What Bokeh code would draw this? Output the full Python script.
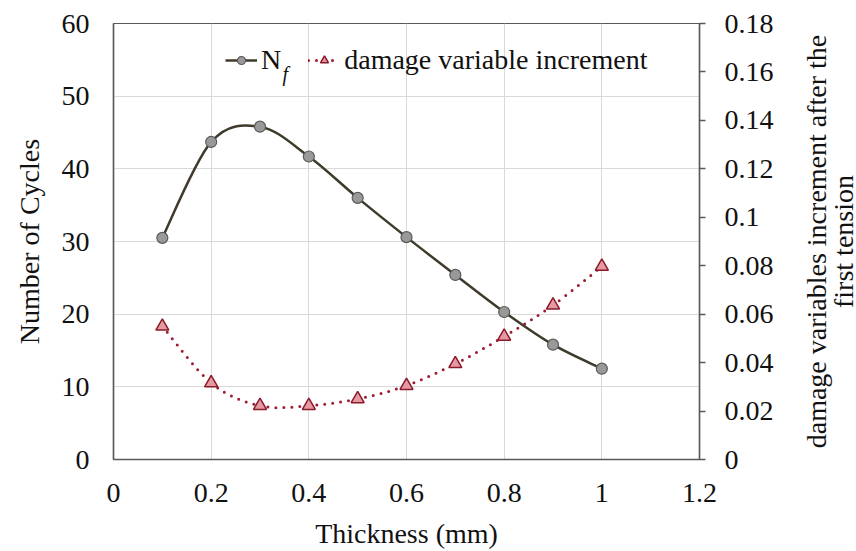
import math
from bokeh.plotting import figure
from bokeh.layouts import row
from bokeh.models import (Range1d, LinearAxis, ColumnDataSource, Legend, LegendItem,
                          Label, FixedTicker, CustomJSTickFormatter)
from bokeh.embed import file_html
from bokeh.resources import INLINE

# ---- data ----
thickness = [0.1, 0.2, 0.3, 0.4, 0.5, 0.6, 0.7, 0.8, 0.9, 1.0]
cycles = [30.5, 43.7, 45.8, 41.7, 36.0, 30.6, 25.4, 20.3, 15.8, 12.5]
damage = [0.055, 0.0316, 0.0222, 0.0222, 0.025, 0.0305, 0.0395, 0.0508, 0.0637, 0.0797]

x_ticks = [0, 0.2, 0.4, 0.6, 0.8, 1.0, 1.2]
left_ticks = [0, 10, 20, 30, 40, 50, 60]
right_ticks = [0, 0.02, 0.04, 0.06, 0.08, 0.1, 0.12, 0.14, 0.16, 0.18]
right_title = ["damage variables increment after the", "first tension"]

FONT = "Liberation Serif"
FS = "28px"
AXIS_COLOR = "#595959"
TEXT_COLOR = "#111111"


def smooth_segments(xs, ys):
    """Catmull-Rom style Bezier segments through the data points (like a spreadsheet smoothed line)."""
    n = len(xs)
    d = dict(x0=[], y0=[], x1=[], y1=[], cx0=[], cy0=[], cx1=[], cy1=[])
    for i in range(n - 1):
        im1 = max(i - 1, 0)
        ip2 = min(i + 2, n - 1)
        d["x0"].append(xs[i]); d["y0"].append(ys[i])
        d["x1"].append(xs[i + 1]); d["y1"].append(ys[i + 1])
        d["cx0"].append(xs[i] + (xs[i + 1] - xs[im1]) / 6)
        d["cy0"].append(ys[i] + (ys[i + 1] - ys[im1]) / 6)
        d["cx1"].append(xs[i + 1] - (xs[ip2] - xs[i]) / 6)
        d["cy1"].append(ys[i + 1] - (ys[ip2] - ys[i]) / 6)
    return ColumnDataSource(d)


p = figure(width=803, height=551, x_range=Range1d(0, 1.2), y_range=Range1d(0, 60),
           output_backend="svg", toolbar_location=None,
           min_border_left=113, min_border_right=104, min_border_top=23, min_border_bottom=91)
p.extra_y_ranges = {"right": Range1d(0, 0.18)}
p.background_fill_color = "white"
p.border_fill_color = "white"
p.outline_line_color = AXIS_COLOR
p.outline_line_width = 1.2

fmt = CustomJSTickFormatter(code="return String(Math.round(tick*1000)/1000);")

# x axis
xa = p.xaxis[0]
xa.ticker = FixedTicker(ticks=x_ticks)
xa.formatter = fmt
xa.axis_label = "Thickness (mm)"
# y axis left
ya = p.yaxis[0]
ya.ticker = FixedTicker(ticks=left_ticks)
ya.formatter = fmt
ya.axis_label = "Number of Cycles"

p.xgrid.ticker = FixedTicker(ticks=x_ticks)
p.ygrid.ticker = FixedTicker(ticks=left_ticks)
for g in (p.xgrid, p.ygrid):
    g.grid_line_color = "#d9d9d9"
    g.grid_line_width = 1

ra = LinearAxis(y_range_name="right", ticker=FixedTicker(ticks=right_ticks), formatter=fmt)
p.add_layout(ra, "right")

for ax in (xa, ya, ra):
    ax.axis_line_color = AXIS_COLOR
    ax.axis_line_width = 1.5
    ax.major_tick_in = 0
    ax.minor_tick_in = 0
    ax.minor_tick_out = 0
    ax.major_label_text_font = FONT
    ax.major_label_text_font_size = FS
    ax.major_label_text_color = TEXT_COLOR
    ax.axis_label_text_font = FONT
    ax.axis_label_text_font_size = FS
    ax.axis_label_text_font_style = "normal"
    ax.axis_label_text_color = TEXT_COLOR

xa.major_tick_out = 0
xa.major_label_standoff = 24
xa.axis_label_standoff = 13
ya.major_tick_out = 0
ya.major_label_standoff = 24
ya.axis_label_standoff = 14
ra.major_tick_out = 6
ra.major_tick_line_color = AXIS_COLOR
ra.major_tick_line_width = 1.5
ra.major_label_standoff = 19

# ---- series ----
NF_LINE = "#3f3a2a"
DMG_LINE = "#9e1b32"

src_nf = ColumnDataSource(dict(x=thickness, y=cycles))
src_d = ColumnDataSource(dict(x=thickness, y=damage))

bz_nf = p.bezier(x0="x0", y0="y0", x1="x1", y1="y1", cx0="cx0", cy0="cy0", cx1="cx1", cy1="cy1",
                 source=smooth_segments(thickness, cycles), line_color=NF_LINE, line_width=2.5)
sc_nf = p.scatter("x", "y", source=src_nf, marker="circle", size=11,
                  fill_color="#999999", line_color="#595959", line_width=1.2)

bz_d = p.bezier(x0="x0", y0="y0", x1="x1", y1="y1", cx0="cx0", cy0="cy0", cx1="cx1", cy1="cy1",
                source=smooth_segments(thickness, damage), y_range_name="right",
                line_color=DMG_LINE, line_width=3, line_dash="0 8", line_cap="round")
sc_d = p.scatter("x", "y", source=src_d, y_range_name="right", marker="triangle", size=13,
                 fill_color="#e59aa3", line_color="#8b1a2a", line_width=1.5)

legend = Legend(items=[LegendItem(label="N", renderers=[bz_nf, sc_nf]),
                       LegendItem(label="damage variable increment", renderers=[bz_d, sc_d])],
                orientation="horizontal", location=(112, 383))
legend.label_text_font = FONT
legend.label_text_font_size = FS
legend.label_text_color = TEXT_COLOR
legend.glyph_width = 32
legend.label_standoff = 4
legend.spacing = 27
legend.padding = 0
legend.margin = 0
legend.border_line_color = None
legend.background_fill_alpha = 0
p.add_layout(legend)

# subscript "f" of N_f
p.add_layout(Label(x=0.346, y=53.0, text="f", text_font=FONT, text_font_size="20px",
                   text_font_style="italic", text_color=TEXT_COLOR, text_baseline="alphabetic"))

# ---- right-hand title strip (two lines reading bottom to top) ----
p2 = figure(width=53, height=551, x_range=Range1d(0, 1), y_range=Range1d(0, 1),
            output_backend="svg", toolbar_location=None,
            x_axis_location=None, y_axis_location=None, min_border=0)
p2.outline_line_color = None
p2.background_fill_color = "white"
p2.border_fill_color = "white"
p2.xgrid.visible = False
p2.ygrid.visible = False
for txt, xpos in zip(right_title, (13, 40)):
    p2.add_layout(Label(x=xpos, y=0.5, x_units="screen", text=txt,
                        angle=math.pi / 2, text_align="center", text_baseline="middle",
                        text_font=FONT, text_font_size=FS, text_color=TEXT_COLOR))

layout = row(p, p2, spacing=0)
open("out.html", "w").write(file_html(layout, INLINE))
